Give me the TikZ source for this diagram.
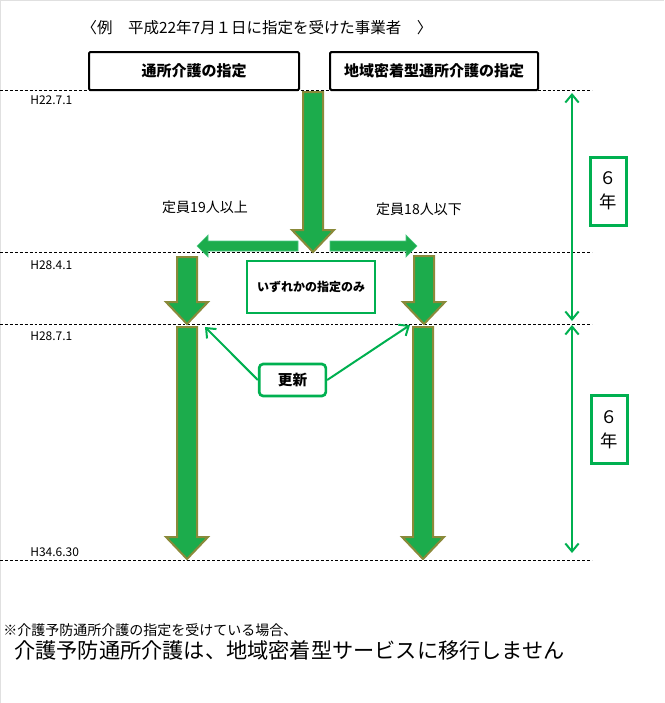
\documentclass[tikz,border=0pt]{standalone}
\usepackage{fontspec}
\setmainfont{Noto Sans CJK JP}
\usetikzlibrary{arrows.meta}
\definecolor{kgreen}{HTML}{00B050}
\definecolor{arrowfill}{HTML}{1CAC4C}
\definecolor{arrowedge}{HTML}{8A8A3A}
\tikzset{spec/.style={rectangle,draw,line width=1.5pt,rounded corners=1pt,fill=white,font=\bfseries\fontsize{11.25}{13}\selectfont,minimum height=28.5pt},greenbox/.style={rectangle,draw=kgreen,line width=2pt,fill=white,align=center},dateline/.style={line width=0.6pt,dash pattern=on 2.2pt off 1.5pt},datelabel/.style={anchor=west,inner sep=0pt,font=\fontsize{9}{10}\selectfont},blockarrow/.style={fill=arrowfill,draw=arrowedge,line width=1.5pt},sidearrow/.style={fill=arrowfill,draw=kgreen!70,line width=0.5pt},renewline/.style={draw=kgreen,line width=1.5pt,-{Straight Barb[length=6pt,width=10pt]}},periodline/.style={draw=kgreen,line width=1.5pt,{Straight Barb[length=6pt,width=10pt]}-{Straight Barb[length=6pt,width=10pt]}}}
\newcommand\blockdown[3]{\draw[blockarrow] (#1-10,#2) -- (#1+10,#2) -- (#1+10,#3-22) -- (#1+21,#3-22) -- (#1,#3) -- (#1-21,#3-22) -- (#1-10,#3-22) -- cycle;}

\begin{document}
\begin{tikzpicture}[x=0.75pt,y=-0.75pt]
\useasboundingbox (0,0) rectangle (664,703);
\draw[black!12,line width=0.75pt] (0.5,703) -- (0.5,0.5) -- (664,0.5);
% date lines
\foreach \y in {90,252,324,560} \draw[dateline] (0,\y) -- (592,\y);
\node[datelabel] (d1) at (30,100) {H22.7.1};
\node[datelabel] (d2) at (30,265) {H28.4.1};
\node[datelabel] (d3) at (30,336) {H28.7.1};
\node[datelabel] (d4) at (30,552) {H34.6.30};
% block arrows
\blockdown{313}{92}{252}
\blockdown{187}{257}{324}
\blockdown{424}{256}{324}
\blockdown{187}{327}{559}
\blockdown{423}{327}{559}
\draw[sidearrow] (298,241) -- (208,241) -- (208,235) -- (197,246) -- (208,257) -- (208,251) -- (298,251) -- cycle;
\draw[sidearrow] (330,241) -- (406,241) -- (406,235) -- (417,246) -- (406,257) -- (406,251) -- (330,251) -- cycle;
% nodes
\node[font=\fontsize{11.6}{13}\selectfont] (title) at (257,28) {〈例　平成22年7月１日に指定を受けた事業者　〉};
\node[spec,minimum width=157.5pt] (tsusho) at (194,71) {通所介護の指定};
\node[spec,minimum width=156pt] (chiiki) at (434,71) {地域密着型通所介護の指定};
\node[font=\fontsize{10.5}{12}\selectfont] (over19) at (205,207) {定員19人以上};
\node[font=\fontsize{10.5}{12}\selectfont] (under18) at (419,209) {定員18人以下};
\node[greenbox,minimum width=96pt,minimum height=39pt,font=\bfseries\fontsize{9}{11}\selectfont] (either) at (311,287) {いずれかの指定のみ};
\node[greenbox,rounded corners=3pt,minimum width=50pt,minimum height=24pt,font=\bfseries\fontsize{11}{13}\selectfont] (renew) at (292.5,380) {更新};
\node[greenbox,line width=2.25pt,minimum width=27pt,minimum height=51pt,font=\fontsize{13}{18}\selectfont] (six1) at (608,191) {６\\年};
\node[greenbox,line width=2.25pt,minimum width=27pt,minimum height=51pt,font=\fontsize{13}{18}\selectfont] (six2) at (609,429.5) {６\\年};
% renewal pointers
\coordinate (lefttip) at (205,327);
\coordinate (righttip) at (410,325);
\draw[renewline] (renew.west) -- (lefttip);
\draw[renewline] (renew.east) -- (righttip);
% six-year spans
\coordinate (p1top) at (572,93);
\coordinate (p1bot) at (572,321);
\coordinate (p2top) at (572,325);
\coordinate (p2bot) at (572,553);
\draw[periodline] (p1top) -- (p1bot);
\draw[periodline] (p2top) -- (p2bot);
% note
\node[anchor=west,inner sep=0pt,font=\fontsize{10.5}{12}\selectfont] (note) at (3,630) {※介護予防通所介護の指定を受けている場合、};
\node[anchor=west,inner sep=0pt,font=\fontsize{15.9}{18}\selectfont] (nomove) at (14,650) {介護予防通所介護は、地域密着型サービスに移行しません};
\end{tikzpicture}
\end{document}
